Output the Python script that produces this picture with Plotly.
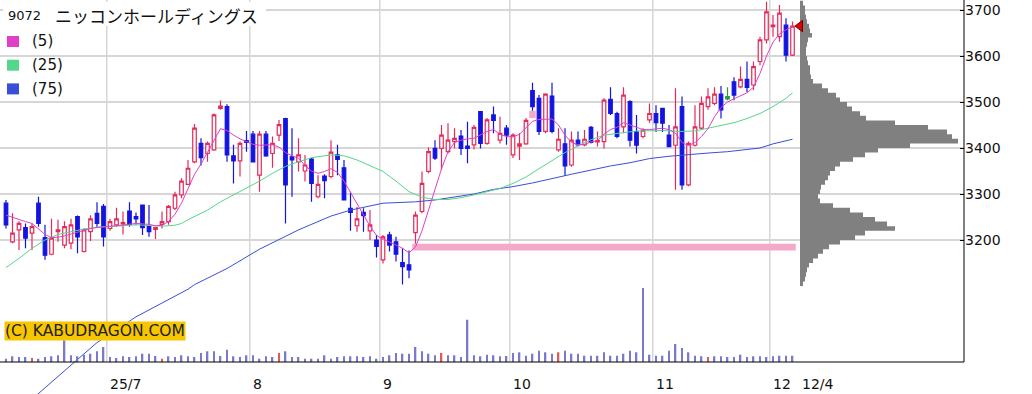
import pandas as pd
import plotly.graph_objects as go

# ---------------- data ----------------
HOLIDAYS = ["2025-07-21", "2025-08-11", "2025-09-15", "2025-09-23",
            "2025-10-13", "2025-11-03", "2025-11-24"]
dates = [d for d in pd.bdate_range("2025-06-09", "2025-12-04")
         if d.strftime("%Y-%m-%d") not in HOLIDAYS]

open_ = [3280, 3196, 3222, 3227, 3215, 3280, 3205, 3169, 3218, 3189,
         3193, 3251, 3175, 3218, 3258, 3273, 3225, 3233, 3235, 3263,
         3251, 3276, 3229, 3223, 3234, 3240, 3269, 3298, 3321, 3370,
         3410, 3388, 3396, 3486, 3490, 3383, 3372, 3416, 3430, 3341,
         3430, 3388, 3428, 3464, 3381, 3370, 3350, 3376, 3294, 3339,
         3338, 3385, 3357, 3269, 3231, 3260, 3220, 3200, 3157, 3211,
         3196, 3151, 3146, 3216, 3262, 3349, 3399, 3399, 3392, 3414,
         3426, 3404, 3407, 3479, 3410, 3472, 3417, 3443, 3385, 3404,
         3409, 3525, 3508, 3436, 3513, 3396, 3409, 3363, 3417, 3407,
         3445, 3413, 3414, 3506, 3475, 3446, 3501, 3435, 3425, 3461,
         3475, 3486, 3428, 3406, 3490, 3320, 3406, 3443, 3490, 3497,
         3517, 3512, 3544, 3533, 3549, 3537, 3588, 3635, 3664, 3642,
         3667, 3602]
high = [3287, 3258, 3241, 3236, 3236, 3294, 3233, 3246, 3244, 3241,
        3246, 3253, 3225, 3254, 3282, 3278, 3246, 3270, 3262, 3282,
        3260, 3276, 3276, 3229, 3262, 3276, 3305, 3334, 3374, 3452,
        3421, 3414, 3475, 3503, 3495, 3407, 3414, 3437, 3437, 3437,
        3437, 3425, 3461, 3466, 3443, 3421, 3385, 3378, 3341, 3343,
        3417, 3407, 3374, 3305, 3272, 3269, 3265, 3211, 3211, 3218,
        3207, 3182, 3177, 3262, 3349, 3401, 3417, 3450, 3454, 3443,
        3439, 3457, 3450, 3479, 3465, 3490, 3468, 3450, 3432, 3432,
        3465, 3542, 3515, 3519, 3542, 3443, 3443, 3436, 3436, 3439,
        3448, 3436, 3508, 3532, 3479, 3532, 3504, 3472, 3443, 3497,
        3493, 3486, 3450, 3530, 3512, 3414, 3493, 3512, 3530, 3532,
        3535, 3532, 3554, 3577, 3588, 3588, 3642, 3718, 3689, 3711,
        3682, 3675]
low = [3225, 3193, 3178, 3182, 3178, 3229, 3157, 3167, 3196, 3182,
       3180, 3171, 3173, 3198, 3227, 3186, 3220, 3229, 3212, 3229,
       3233, 3211, 3207, 3202, 3225, 3233, 3265, 3291, 3320, 3367,
       3362, 3370, 3394, 3483, 3370, 3323, 3338, 3392, 3370, 3305,
       3381, 3357, 3415, 3236, 3294, 3349, 3327, 3283, 3291, 3291,
       3334, 3341, 3287, 3220, 3218, 3218, 3200, 3162, 3149, 3175,
       3153, 3103, 3117, 3192, 3258, 3345, 3374, 3352, 3388, 3399,
       3385, 3367, 3397, 3399, 3407, 3432, 3410, 3407, 3378, 3374,
       3407, 3481, 3428, 3432, 3432, 3392, 3339, 3359, 3403, 3404,
       3410, 3403, 3399, 3472, 3421, 3432, 3403, 3388, 3421, 3455,
       3435, 3435, 3403, 3309, 3309, 3317, 3403, 3439, 3483, 3493,
       3464, 3504, 3504, 3530, 3522, 3526, 3580, 3627, 3642, 3631,
       3588, 3600]
close = [3233, 3215, 3236, 3204, 3229, 3236, 3167, 3204, 3222, 3229,
         3233, 3207, 3222, 3246, 3236, 3207, 3240, 3246, 3238, 3234,
         3246, 3227, 3218, 3227, 3240, 3273, 3298, 3328, 3356, 3443,
         3379, 3410, 3472, 3491, 3385, 3372, 3410, 3412, 3370, 3430,
         3383, 3410, 3451, 3320, 3374, 3385, 3363, 3323, 3321, 3329,
         3391, 3375, 3287, 3260, 3246, 3253, 3233, 3186, 3207, 3189,
         3169, 3142, 3135, 3254, 3323, 3392, 3378, 3428, 3417, 3421,
         3399, 3399, 3445, 3410, 3461, 3460, 3432, 3428, 3428, 3409,
         3460, 3490, 3436, 3517, 3436, 3419, 3361, 3417, 3407, 3419,
         3412, 3416, 3504, 3475, 3425, 3515, 3417, 3406, 3439, 3475,
         3455, 3454, 3403, 3446, 3320, 3410, 3446, 3497, 3511, 3517,
         3483, 3507, 3515, 3549, 3532, 3577, 3635, 3696, 3667, 3693,
         3602, 3665]
green_candles = [111]          # candle drawn in green

volume = [33, 57, 50, 50, 40, 33, 50, 57, 67, 217,
          67, 57, 73, 83, 107, 150, 50, 40, 57, 50,
          57, 83, 83, 60, 33, 57, 50, 67, 57, 50,
          90, 107, 107, 60, 123, 57, 50, 67, 67, 33,
          57, 50, 90, 107, 50, 50, 33, 33, 33, 67,
          33, 50, 57, 57, 57, 50, 57, 33, 50, 67,
          90, 83, 83, 150, 107, 83, 67, 90, 67, 67,
          50, 423, 67, 57, 73, 67, 57, 60, 90, 97,
          63, 83, 113, 97, 83, 97, 113, 83, 83, 63,
          63, 63, 97, 63, 63, 83, 113, 97, 740, 73,
          63, 63, 113, 180, 140, 97, 63, 57, 50, 57,
          57, 50, 50, 73, 50, 57, 57, 50, 57, 63,
          63, 63]
volume_red = [4, 24, 42, 67, 85, 108]

ma5 = [3254, 3249, 3245, 3240, 3236, 3225, 3212, 3205, 3206, 3209,
       3213, 3218, 3221, 3225, 3227, 3229, 3230, 3231, 3233, 3235,
       3236, 3235, 3234, 3231, 3232, 3240, 3256, 3280, 3310, 3343,
       3365, 3390, 3418, 3442, 3438, 3428, 3420, 3414, 3408, 3406,
       3407, 3407, 3402, 3390, 3383, 3378, 3362, 3350, 3345, 3349,
       3355, 3347, 3328, 3303, 3278, 3252, 3230, 3210, 3201, 3196,
       3189, 3182, 3172, 3185, 3220, 3265, 3305, 3355, 3392, 3412,
       3417, 3420, 3421, 3428, 3436, 3440, 3430, 3425, 3424, 3430,
       3445, 3458, 3462, 3462, 3463, 3450, 3428, 3412, 3407, 3408,
       3413, 3416, 3430, 3440, 3445, 3455, 3450, 3445, 3440, 3440,
       3442, 3443, 3440, 3432, 3412, 3405, 3412, 3425, 3442, 3468,
       3488, 3500, 3507, 3513, 3520, 3532, 3562, 3600, 3630, 3648,
       3657, 3664]

ma25_idx = [0, 2, 4, 6, 8, 10, 12, 14, 16, 18, 20, 22, 24, 26, 27, 28, 30, 31,
            33, 35, 37, 39, 41, 43, 45, 47, 50, 52, 54, 56, 58, 60, 62, 64, 66,
            68, 70, 72, 74, 76, 78, 80, 82, 84, 86, 88, 90, 92, 94, 97, 101,
            104, 106, 108, 110, 112, 114, 116, 118, 120, 121]
ma25 = [3140, 3160, 3182, 3200, 3212, 3218, 3224, 3228, 3229, 3231, 3233,
        3231, 3230, 3232, 3236, 3244, 3258, 3265, 3283, 3298, 3312, 3328,
        3345, 3360, 3370, 3379, 3385, 3383, 3374, 3362, 3349, 3328, 3305,
        3293, 3288, 3288, 3292, 3298, 3305, 3312, 3323, 3337, 3355, 3373,
        3390, 3405, 3418, 3428, 3432, 3437, 3438, 3436, 3437, 3443, 3450,
        3455, 3464, 3475, 3490, 3508, 3520]

ma75_idx = [4, 7, 10, 14, 17, 20, 24, 28, 29, 34, 39, 45, 50, 53, 58, 61, 63,
            66, 69, 72, 75, 78, 81, 84, 87, 90, 93, 96, 99, 102, 105, 108,
            111, 114, 116, 118, 120, 121]
ma75 = [2854, 2890, 2928, 2977, 3005, 3033, 3063, 3093, 3103, 3138, 3180,
        3222, 3252, 3265, 3280, 3282, 3283, 3287, 3294, 3300, 3310, 3316,
        3324, 3334, 3343, 3352, 3361, 3368, 3377, 3382, 3386, 3389, 3392,
        3396, 3400, 3409, 3415, 3419]

# price gaps (window) : start candle, last candle, low, high
gap_start = [62, 80]
gap_end = [121, 81]
gap_low = [3177, 3465]
gap_high = [3192, 3481]

# volume by price profile (10-yen bins, lower bin edges)
profile_bin = 10
profile_price = list(range(3100, 3711, 10))
profile_vol = [30, 50, 60, 70, 90, 130, 180, 230, 290, 400,
               550, 650, 950, 870, 750, 630, 500, 330, 200, 180,
               200, 210, 250, 280, 300, 350, 400, 530, 650, 780,
               1100, 1580, 1520, 1470, 1280, 950, 660, 600, 520, 470,
               400, 360, 280, 220, 130, 110, 100, 100, 80, 70,
               60, 60, 70, 80, 120, 100, 90, 70, 60, 50,
               50, 30]

price_ticks = [3200, 3300, 3400, 3500, 3600, 3700]
month_labels = ["25/7", "8", "9", "10", "11", "12"]
last_label = "12/4"
title_code = "9072"
title_name = "ニッコンホールディングス"
legend_labels = ["(5)", "(25)", "(75)"]
copyright_text = "(C) KABUDRAGON.COM"

# ---------------- geometry / style ----------------
W, H = 1032, 394
PLOT_W = 964
AXIS_Y_PX = 362
BAR_PX = 6.5
X0_PX = 6
PX_PER_100 = 46.0
REF_PX = 10  # pixel row of 3700
PROFILE_BASE_PX = 800

RED = "#e42a58"
BLUE = "#1414e0"
GREEN_C = "#2a9a3a"
MA5_C = "#e040c8"
MA25_C = "#55d68a"
MA75_C = "#3a4fd8"
GRID = "#d6d6d6"
VOL_C = "#7a7acc"
VOL_RED = "#e05a5a"
PROF_C = "#808080"
GAP_C = "#f5a9c9"

idx = list(range(len(dates)))
n = len(idx)

def pxx(p):
    return p / PLOT_W

def pxy(p):
    return 1 - p / H

x_range = [(0 - X0_PX) / BAR_PX, (PLOT_W - X0_PX) / BAR_PX]
y_range = [3700 - (H - REF_PX) * 100 / PX_PER_100, 3700 + REF_PX * 100 / PX_PER_100]
VOL_SCALE = 10
vol_range = [-(H - AXIS_Y_PX) * VOL_SCALE, AXIS_Y_PX * VOL_SCALE]
prof_range = [-PROFILE_BASE_PX * 10, (PLOT_W - PROFILE_BASE_PX) * 10]

month_start = [i for i in range(1, n) if dates[i].month != dates[i - 1].month]

fig = go.Figure()

# volume bars
vol_colors = [VOL_RED if i in volume_red else VOL_C for i in idx]
fig.add_trace(go.Bar(x=idx, y=volume, yaxis="y2", width=0.25,
                     marker=dict(color=vol_colors, line=dict(width=0)),
                     hoverinfo="skip", showlegend=False))

# candles
main_i = [i for i in idx if i not in green_candles]
fig.add_trace(go.Candlestick(
    x=main_i,
    open=[open_[i] for i in main_i], high=[high[i] for i in main_i],
    low=[low[i] for i in main_i], close=[close[i] for i in main_i],
    increasing=dict(line=dict(color=RED, width=1.2), fillcolor="white"),
    decreasing=dict(line=dict(color=BLUE, width=1.2), fillcolor=BLUE),
    whiskerwidth=0, showlegend=False, hoverinfo="skip"))
fig.add_trace(go.Candlestick(
    x=green_candles,
    open=[open_[i] for i in green_candles], high=[high[i] for i in green_candles],
    low=[low[i] for i in green_candles], close=[close[i] for i in green_candles],
    increasing=dict(line=dict(color=GREEN_C, width=1.2), fillcolor=GREEN_C),
    decreasing=dict(line=dict(color=GREEN_C, width=1.2), fillcolor=GREEN_C),
    whiskerwidth=0, showlegend=False, hoverinfo="skip"))

# moving averages
fig.add_trace(go.Scatter(x=ma75_idx, y=ma75, mode="lines",
                         line=dict(color=MA75_C, width=1), showlegend=False, hoverinfo="skip"))
fig.add_trace(go.Scatter(x=ma25_idx, y=ma25, mode="lines",
                         line=dict(color=MA25_C, width=1), showlegend=False, hoverinfo="skip"))
fig.add_trace(go.Scatter(x=idx, y=ma5, mode="lines",
                         line=dict(color=MA5_C, width=1), showlegend=False, hoverinfo="skip"))

# volume profile as a stepped filled outline (each bin = a flat step)
prof_x, prof_y = [0], [profile_price[0]]
for p, v in zip(profile_price, profile_vol):
    prof_x += [v, v]
    prof_y += [p, p + profile_bin]
prof_x.append(0)
prof_y.append(profile_price[-1] + profile_bin)
fig.add_trace(go.Scatter(x=prof_x, y=prof_y, xaxis="x2", yaxis="y", mode="lines",
                         fill="toself", fillcolor=PROF_C, line=dict(width=0, color=PROF_C),
                         hoverinfo="skip", showlegend=False))
# last price marker
fig.add_trace(go.Scatter(x=[0], y=[close[-1]], xaxis="x2", yaxis="y", mode="markers",
                         marker=dict(symbol="triangle-left", size=10, color="#e00000",
                                     line=dict(color="#700000", width=1)),
                         showlegend=False, hoverinfo="skip"))

shapes = []
# vertical month grid lines
for m in month_start:
    shapes.append(dict(type="line", xref="x", yref="paper", x0=m - 0.5, x1=m - 0.5,
                       y0=pxy(AXIS_Y_PX), y1=1, line=dict(color=GRID, width=1.5), layer="below"))
# gap bands
for s, e, lo, hi in zip(gap_start, gap_end, gap_low, gap_high):
    shapes.append(dict(type="rect", xref="x", yref="y", x0=s + 0.5, x1=e + 0.5, y0=lo, y1=hi,
                       fillcolor=GAP_C, line=dict(width=0), layer="between"))
# axis lines
shapes.append(dict(type="line", xref="paper", yref="paper", x0=0, x1=1,
                   y0=pxy(AXIS_Y_PX), y1=pxy(AXIS_Y_PX), line=dict(color="#000", width=1), layer="above"))
shapes.append(dict(type="line", xref="paper", yref="paper", x0=1, x1=1,
                   y0=pxy(AXIS_Y_PX), y1=1, line=dict(color="#000", width=1), layer="above"))
# title mask
shapes.append(dict(type="rect", xref="paper", yref="paper", x0=pxx(3), x1=pxx(266),
                   y0=pxy(26), y1=pxy(2), fillcolor="white", line=dict(width=0), layer="above"))
# legend squares
for k, c in enumerate([MA5_C, MA25_C, MA75_C]):
    yc = 41.5 + 23.7 * k
    shapes.append(dict(type="rect", xref="paper", yref="paper", x0=pxx(7), x1=pxx(19),
                       y0=pxy(yc + 5.5), y1=pxy(yc - 5.5), fillcolor=c, line=dict(width=0),
                       layer="above"))

ann = []
FONT = "DejaVu Sans"
ann.append(dict(text=title_code, xref="paper", yref="paper", x=pxx(6), y=pxy(15),
                xanchor="left", yanchor="middle", showarrow=False,
                font=dict(family=FONT, size=13, color="#111")))
ann.append(dict(text=title_name, xref="paper", yref="paper", x=pxx(53), y=pxy(15),
                xanchor="left", yanchor="middle", showarrow=False,
                font=dict(family="Noto Sans CJK JP", size=17, color="#111")))
for k, t in enumerate(legend_labels):
    yc = 41.5 + 23.7 * k
    ann.append(dict(text=t, xref="paper", yref="paper", x=pxx(30), y=pxy(yc),
                    xanchor="left", yanchor="middle", showarrow=False,
                    font=dict(family=FONT, size=15, color="#111")))
ann.append(dict(text=copyright_text, xref="paper", yref="paper", x=pxx(4), y=pxy(331),
                xanchor="left", yanchor="middle", showarrow=False, bgcolor="#f7c600",
                borderpad=0, font=dict(family=FONT, size=15.5, color="#222")))
for m, lab in zip(month_start, month_labels):
    ann.append(dict(text=lab, xref="x", yref="paper", x=m - 0.5, xshift=1, y=pxy(384),
                    xanchor="left", yanchor="middle", showarrow=False,
                    font=dict(family=FONT, size=14, color="#111")))
ann.append(dict(text=last_label, xref="x", yref="paper", x=n - 1, xshift=7, y=pxy(384),
                xanchor="left", yanchor="middle", showarrow=False,
                font=dict(family=FONT, size=14, color="#111")))

fig.update_layout(
    width=W, height=H,
    margin=dict(l=0, r=W - PLOT_W, t=0, b=0),
    paper_bgcolor="white", plot_bgcolor="white",
    showlegend=False, hovermode=False, boxgap=0.22,
    xaxis=dict(range=x_range, showgrid=False, zeroline=False, showticklabels=False,
               ticks="", showline=False, rangeslider=dict(visible=False), fixedrange=True),
    yaxis=dict(range=y_range, side="right", tickvals=price_ticks,
               ticktext=[str(v) for v in price_ticks],
               ticks="inside", ticklen=4, tickcolor="#000", showgrid=True,
               gridcolor=GRID, gridwidth=1.5, zeroline=False, showline=False,
               tickfont=dict(family=FONT, size=14, color="#111"), fixedrange=True),
    xaxis2=dict(overlaying="x", range=prof_range, visible=False, fixedrange=True),
    yaxis2=dict(overlaying="y", range=vol_range, visible=False, fixedrange=True),
    shapes=shapes, annotations=ann,
)

fig.write_html("out.html", config={"displayModeBar": False})
